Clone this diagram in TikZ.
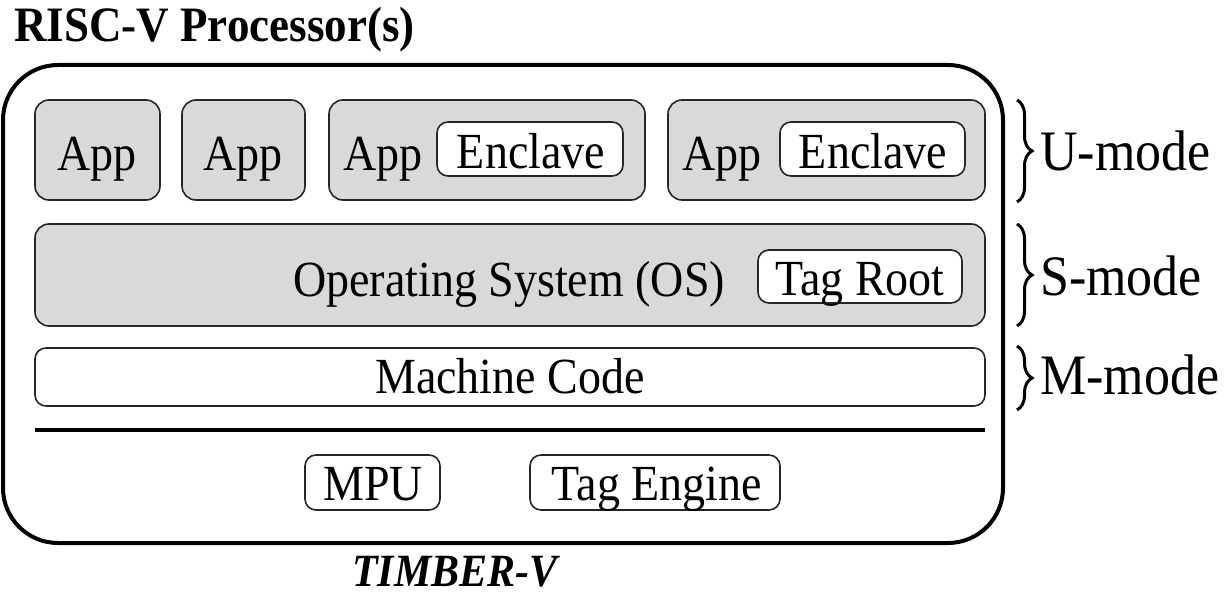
\documentclass[tikz,border=0pt]{standalone}
\usepackage{graphicx}
\usepackage{fontspec}
\setmainfont{Liberation Serif}
\usetikzlibrary{decorations.pathreplacing}
\newcommand\tstr[1]{\scalebox{1}[1.1]{#1}}
\begin{document}
\begin{tikzpicture}[x=1pt,y=-1pt,
  gbox/.style={draw=black!85,line width=1.6pt,rounded corners=14pt,fill=black!15,inner sep=0pt},
  wbox/.style={draw=black!85,line width=1.6pt,rounded corners=11pt,fill=white,inner sep=0pt},
  txt/.style={font=\fontsize{46}{50}\selectfont,inner sep=0pt,anchor=base},
  mtxt/.style={font=\fontsize{52}{56}\selectfont,inner sep=0pt,anchor=base west},
  brc/.style={decorate,decoration={brace,amplitude=15pt},line width=3pt},
]
\useasboundingbox (0,0) rectangle (1224,599);
\node[font=\fontsize{45}{48}\selectfont\bfseries,anchor=base west,inner sep=0pt] (title) at (14,42) {\tstr{RISC-V Processor(s)}};
\draw[line width=4pt,rounded corners=55pt] (3,65) rectangle (1003,543);
% U-mode
\node[gbox,minimum width=125pt,minimum height=100pt] (app1) at (97.5,150) {};
\node[txt] (app1t) at (97,171) {\tstr{App}};
\node[gbox,minimum width=123pt,minimum height=100pt] (app2) at (243.5,150) {};
\node[txt] (app2t) at (243,171) {\tstr{App}};
\node[gbox,minimum width=316pt,minimum height=100pt] (app3) at (487,150) {};
\node[txt] (app3t) at (383,171) {\tstr{App}};
\node[wbox,minimum width=186pt,minimum height=54pt] (enc1) at (530,149) {};
\node[txt] (enc1t) at (531,168) {\tstr{Enclave}};
\node[gbox,minimum width=317pt,minimum height=100pt] (app4) at (826.5,150) {};
\node[txt] (app4t) at (722,171) {\tstr{App}};
\node[wbox,minimum width=185pt,minimum height=54pt] (enc2) at (872.5,149) {};
\node[txt] (enc2t) at (873,168) {\tstr{Enclave}};
% S-mode
\node[gbox,minimum width=950pt,minimum height=102pt] (os) at (510,275) {};
\node[txt] (ost) at (509,296) {\tstr{Operating System (OS)}};
\node[wbox,minimum width=204pt,minimum height=53pt] (tagroot) at (860,276.5) {};
\node[txt] (tagroott) at (860,295) {\tstr{Tag Root}};
% M-mode
\node[wbox,minimum width=950pt,minimum height=58pt] (mc) at (510,377) {};
\node[txt] (mct) at (510,393) {\tstr{Machine Code}};
\coordinate (l1) at (35,430);
\coordinate (l2) at (985,430);
\draw[line width=4pt] (l1) -- (l2);
\node[wbox,minimum width=135pt,minimum height=55pt] (mpu) at (372.5,482.5) {};
\node[txt] (mput) at (373,500) {\tstr{MPU}};
\node[wbox,minimum width=250pt,minimum height=55pt] (te) at (655,482.5) {};
\node[txt] (tet) at (657,500) {\tstr{Tag Engine}};
\node[font=\fontsize{42}{46}\selectfont\bfseries\itshape,inner sep=0pt,anchor=base] (timber) at (455,586) {\tstr{TIMBER-V}};
% braces
\coordinate (u1) at (1017,100); \coordinate (u2) at (1017,202);
\coordinate (s1) at (1017,224); \coordinate (s2) at (1017,326);
\coordinate (m1) at (1017,346); \coordinate (m2) at (1017,410);
\draw[brc] (u1) -- (u2);
\draw[brc] (s1) -- (s2);
\draw[brc] (m1) -- (m2);
\node[mtxt] (um) at (1040,171) {\tstr{U-mode}};
\node[mtxt] (sm) at (1040,295) {\tstr{S-mode}};
\node[mtxt] (mm) at (1040,394) {\tstr{M-mode}};
\end{tikzpicture}
\end{document}
